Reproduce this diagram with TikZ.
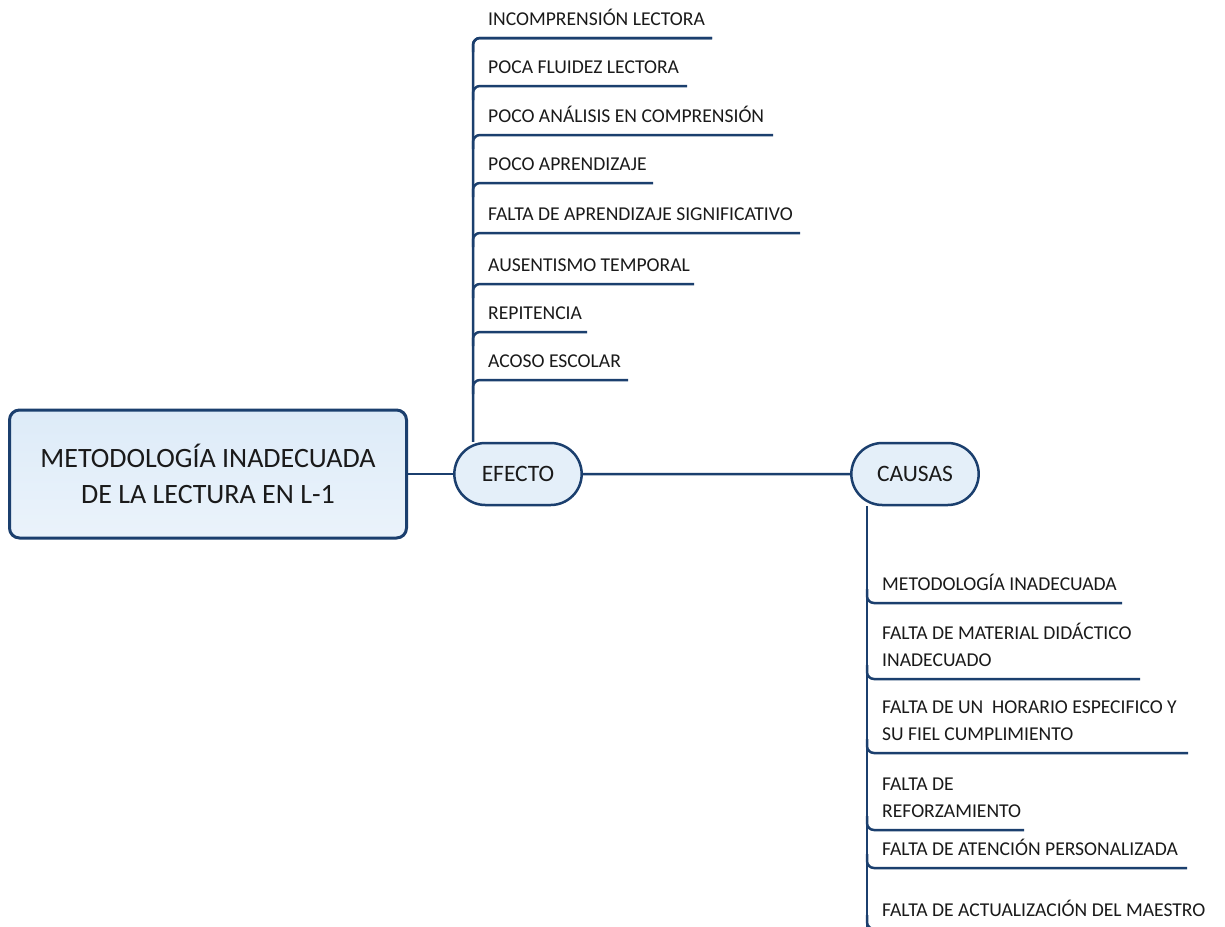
\documentclass[tikz,border=0pt]{standalone}
\usepackage{fontspec}
\setmainfont{Carlito}
\usetikzlibrary{shapes.misc}

\definecolor{linea}{HTML}{1B3F6E}
\definecolor{relleno}{HTML}{DDEBF8}
\definecolor{texto}{HTML}{1A1A1A}

\tikzset{
    titulo/.style={draw=linea, line width=3pt, rounded corners=10pt, top color=relleno, bottom color=relleno!60, minimum width=397pt, minimum height=128pt, align=center, text=texto, font=\fontsize{28}{36}\selectfont},
    tema/.style={draw=linea, line width=2.5pt, rounded rectangle, fill=relleno!80, minimum width=134pt, minimum height=62pt, text=texto, font=\fontsize{23.5}{28}\selectfont},
    hoja/.style={anchor=south west, inner sep=0pt, align=left, text=texto, font=\fontsize{19.6}{27}\selectfont},
    rama/.style={draw=linea, line width=2.5pt, rounded corners=7pt}
}

\begin{document}
\begin{tikzpicture}[x=1pt, y=-1pt]
    \clip (0,0) rectangle (1225,926);
    \fill[white] (0,0) rectangle (1225,926);

    % nodos principales
    \node[titulo] (prob) at (208,474) {METODOLOGÍA INADECUADA\\DE LA LECTURA EN L-1};
    \node[tema] (efecto) at (518,474) {EFECTO};
    \node[tema] (causas) at (915,474) {CAUSAS};

    \draw[rama] (prob) -- (efecto);
    \draw[rama] (efecto) -- (causas);

    % efectos
    \coordinate (te) at (473,0);
    \draw[rama] (efecto.north -| te) -- (473,38) -- (712,38);
    \foreach \i/\yy/\xe/\txt in {
        1/38/712/INCOMPRENSIÓN LECTORA,
        2/86/687/POCA FLUIDEZ LECTORA,
        3/135/773/POCO ANÁLISIS EN COMPRENSIÓN,
        4/183/653/POCO APRENDIZAJE,
        5/233/800/FALTA DE APRENDIZAJE SIGNIFICATIVO,
        6/284/694/AUSENTISMO TEMPORAL,
        7/332/587/REPITENCIA,
        8/380/628/ACOSO ESCOLAR}{
        \node[hoja] (e\i) at (488,\yy-12) {\txt};
        \draw[rama] (473,\yy+14) -- (473,\yy) -- (\xe,\yy);
    }

    % causas
    \coordinate (tc) at (867,0);
    \draw[rama] (causas.south -| tc) -- (867,940);
    \foreach \i/\yy/\xe/\txt in {
        1/603/1122/METODOLOGÍA INADECUADA,
        2/679/1140/FALTA DE MATERIAL DIDÁCTICO\\INADECUADO,
        3/753/1188/FALTA DE UN \ HORARIO ESPECIFICO Y\\SU FIEL CUMPLIMIENTO,
        4/830/1024/FALTA DE\\REFORZAMIENTO,
        5/868/1187/FALTA DE ATENCIÓN PERSONALIZADA,
        6/929/1225/FALTA DE ACTUALIZACIÓN DEL MAESTRO}{
        \node[hoja] (c\i) at (882,\yy-12) {\txt};
        \draw[rama] (867,\yy-14) -- (867,\yy) -- (\xe,\yy);
    }
\end{tikzpicture}
\end{document}
